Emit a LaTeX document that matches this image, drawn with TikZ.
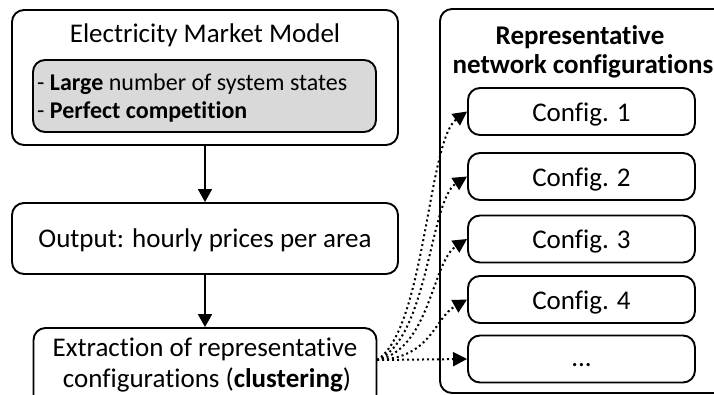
\documentclass[tikz,border=0pt]{standalone}
\usepackage{fontspec}
\setmainfont{Carlito}[Ligatures=NoCommon]
\usetikzlibrary{arrows.meta}
\definecolor{boxgray}{RGB}{217,217,217}
\begin{document}
\begin{tikzpicture}[x=1pt,y=-1pt,
  box/.style={draw=black, line width=1.9pt, rounded corners=12pt, inner sep=0pt},
  txt/.style={anchor=base, inner sep=0pt, font=\fontsize{27}{32}\selectfont},
  smalltxt/.style={anchor=base west, inner sep=0pt, font=\fontsize{24}{28}\selectfont},
  flow/.style={line width=1.8pt, -{Triangle[length=13pt,width=14pt]}},
  dots/.style={line width=2pt, dash pattern=on 2pt off 3pt, -{Triangle[length=14pt,width=14pt]}}
]
\useasboundingbox (0,0) rectangle (714,394);
% left column
\node[box, minimum width=386pt, minimum height=135pt] (emm) at (205,77.5) {};
\node[txt] (emmt) at (205,42) {Electricity Market Model};
\node[box, fill=boxgray, minimum width=343pt, minimum height=72pt] (feat) at (204.5,96) {};
\node[smalltxt] (f1) at (37,90) {- \textbf{Large} number of system states};
\node[smalltxt] (f2) at (37,118) {- \textbf{Perfect competition}};
\node[box, minimum width=386pt, minimum height=71pt] (out) at (205,238.5) {};
\node[txt] (outt) at (205,247) {Output: hourly prices per area};
\node[box, minimum width=343pt, minimum height=80pt] (ext) at (205,368) {};
\node[txt] (ext1) at (205,356) {Extraction of representative};
\node[txt] (ext2) at (207,387) {configurations (\textbf{clustering})};
\coordinate (exto) at (377,360);
\draw[flow] (emm.south -| 205,0) -- (out.north -| 205,0);
\draw[flow] (out.south -| 205,0) -- (ext.north -| 205,0);
% right column
\node[box, minimum width=310pt, minimum height=384pt] (net) at (595,201) {};
\node[txt, font=\fontsize{27}{32}\selectfont\bfseries] (nt1) at (580,44) {Representative};
\node[txt, font=\fontsize{27}{32}\selectfont\bfseries] (nt2) at (583,73) {network configurations};
\node[box, minimum width=227pt, minimum height=47pt] (c1) at (581.5,111.5) {};
\node[txt] at (581.5,121) {Config. 1};
\node[box, minimum width=227pt, minimum height=47pt] (c2) at (581.5,176.5) {};
\node[txt] at (581.5,186) {Config. 2};
\node[box, minimum width=227pt, minimum height=47pt] (c3) at (581.5,239) {};
\node[txt] at (581.5,248.5) {Config. 3};
\node[box, minimum width=227pt, minimum height=47pt] (c4) at (581.5,299.5) {};
\node[txt] at (581.5,309) {Config. 4};
\node[box, minimum width=227pt, minimum height=47pt] (c5) at (581.5,359) {};
\node[txt] at (581.5,366) {...};
% dotted connectors
\draw[dots] (exto) .. controls (425,330) and (428,140) .. (c1.west);
\draw[dots] (exto) .. controls (428,340) and (430,200) .. (c2.west);
\draw[dots] (exto) .. controls (430,350) and (432,262) .. (c3.west);
\draw[dots] (exto) .. controls (432,358) and (434,318) .. (c4.west);
\draw[dots] (exto) -- (c5.west);
\end{tikzpicture}
\end{document}
